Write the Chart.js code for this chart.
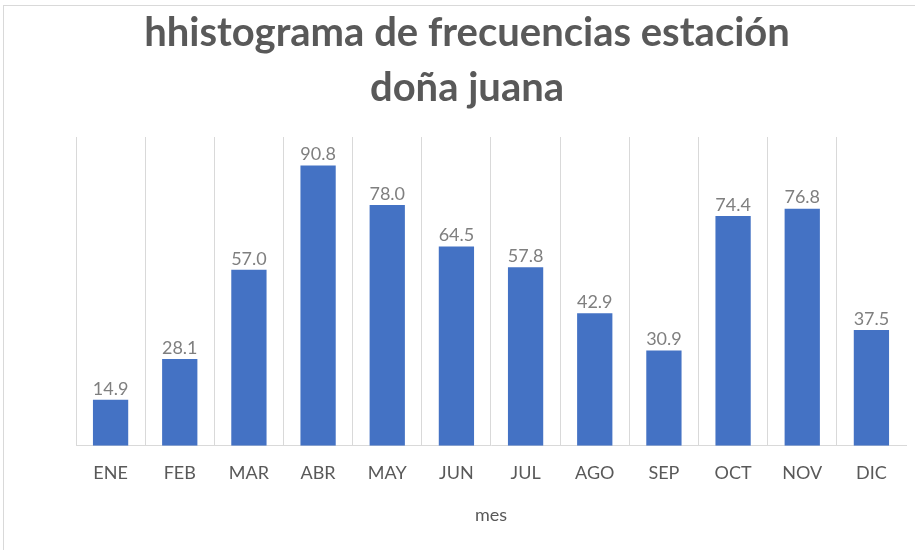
<!DOCTYPE html>
<html>
<head>
<meta charset="utf-8">
<script src="https://cdn.jsdelivr.net/npm/chart.js@4.4.1/dist/chart.umd.min.js"></script>
<style>
  html, body { margin: 0; padding: 0; background: #ffffff; }
  #marco {
    position: absolute; left: 3px; top: 5px;
    width: 912px; height: 545px;
    border-top: 1px solid #d9d9d9; border-left: 1px solid #d9d9d9;
  }
  #grafico { display: block; }
</style>
</head>
<body>
<div id="marco"><canvas id="grafico" width="911" height="544"></canvas></div>
<script>
// datos del histograma
const meses = ['ENE', 'FEB', 'MAR', 'ABR', 'MAY', 'JUN', 'JUL', 'AGO', 'SEP', 'OCT', 'NOV', 'DIC'];
const frecuencias = [14.9, 28.1, 57.0, 90.8, 78.0, 64.5, 57.8, 42.9, 30.9, 74.4, 76.8, 37.5];

const fuente = 'Lato, "Open Sans", sans-serif';

// etiquetas de valor encima de cada barra
const etiquetasBarras = {
    id: 'etiquetasBarras',
    afterDatasetsDraw(chart) {
        const ctx = chart.ctx;
        const meta = chart.getDatasetMeta(0);
        ctx.save();
        ctx.font = '18px ' + fuente;
        ctx.fillStyle = '#7f7f7f';
        ctx.textAlign = 'center';
        ctx.textBaseline = 'bottom';
        meta.data.forEach((barra, i) => {
            ctx.fillText(frecuencias[i].toFixed(1), barra.x, barra.y - 2);
        });
        ctx.restore();
    }
};

new Chart(document.getElementById('grafico'), {
    type: 'bar',
    data: {
        labels: meses,
        datasets: [{
            data: frecuencias,
            backgroundColor: '#4472c4',
            borderWidth: 0,
            categoryPercentage: 1,
            barPercentage: 0.51
        }]
    },
    options: {
        responsive: false,
        animation: false,
        layout: { padding: { left: 24, right: 9, top: 0, bottom: 24 } },
        plugins: {
            legend: { display: false },
            tooltip: { enabled: false },
            title: {
                display: true,
                text: ['hhistograma de frecuencias estación', 'doña juana'],
                color: '#595959',
                font: { family: fuente, size: 40, weight: 'bold', lineHeight: 1.375 },
                padding: { top: 0, bottom: 21 }
            }
        },
        scales: {
            x: {
                offset: true,
                grid: {
                    offset: true,
                    drawTicks: false,
                    color: (c) => c.type === 'tick' ? '#d9d9d9' : 'rgba(0,0,0,0)'
                },
                border: { display: true, color: '#d9d9d9' },
                ticks: {
                    color: '#595959',
                    font: { family: fuente, size: 18 },
                    padding: 17
                },
                title: {
                    display: true,
                    text: 'mes',
                    color: '#595959',
                    font: { family: fuente, size: 18 },
                    padding: { top: 3, bottom: 0 }
                }
            },
            y: {
                min: 0,
                max: 100,
                grid: { display: false },
                border: { display: false },
                ticks: { display: false },
                afterFit: (escala) => { escala.width = 48; }
            }
        }
    },
    plugins: [etiquetasBarras]
});
</script>
</body>
</html>
